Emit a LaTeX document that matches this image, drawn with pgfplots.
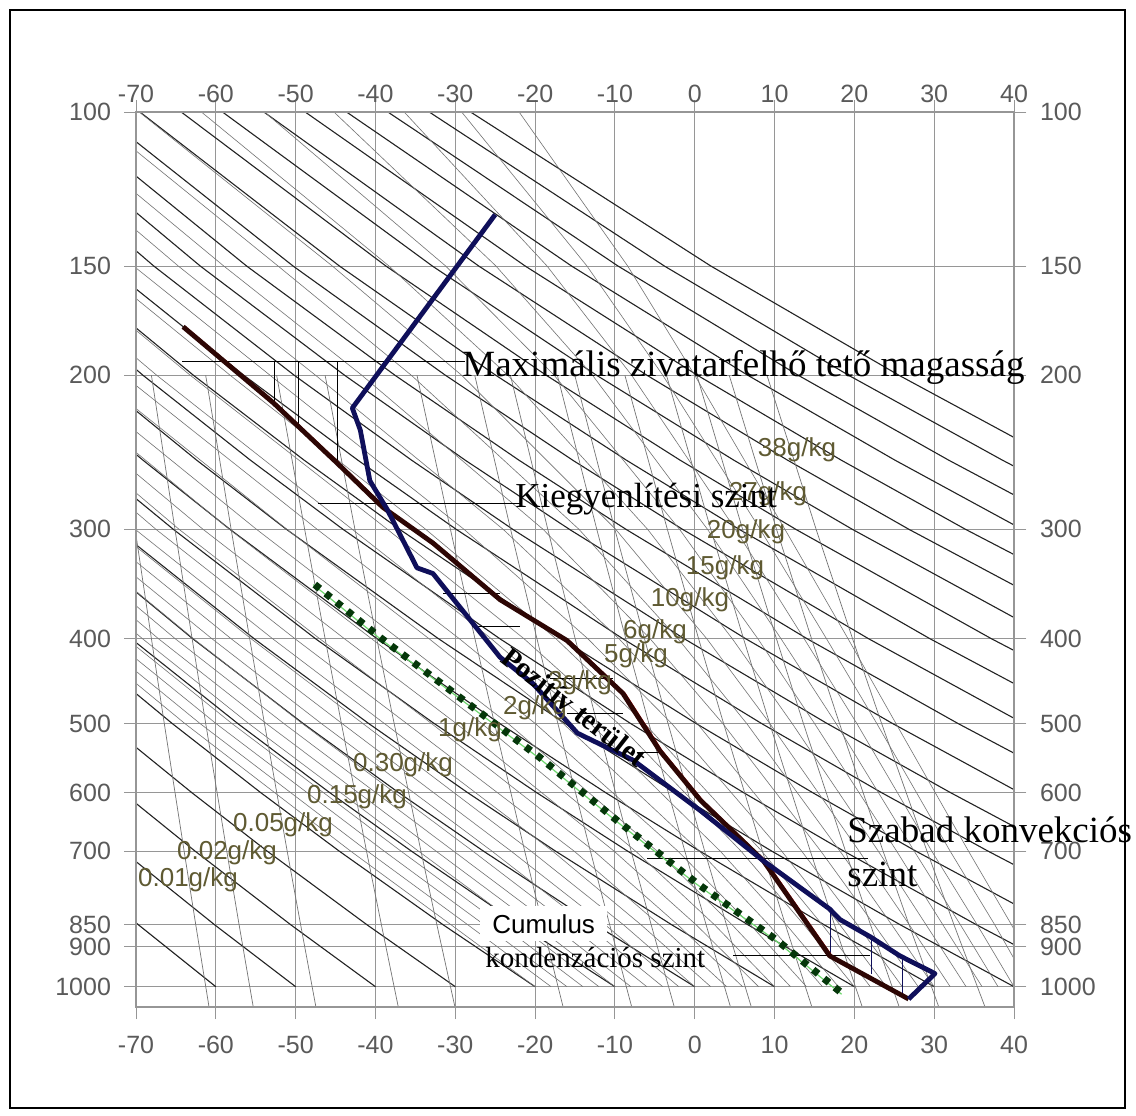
\documentclass[border=0pt]{standalone}
\usepackage{pgfplots}
\usepackage{pgfplotstable}
\pgfplotsset{compat=1.18}
\usepackage{fontspec}
\setmainfont{Liberation Serif}
\setsansfont{Liberation Sans}

\definecolor{gridc}{RGB}{150,150,150}
\definecolor{tickc}{RGB}{90,90,90}
\definecolor{dryc}{RGB}{35,35,35}
\definecolor{thinc}{RGB}{115,115,115}
\definecolor{mixc}{RGB}{95,90,50}
\definecolor{tempc}{RGB}{45,6,4}
\definecolor{envc}{RGB}{15,15,90}
\definecolor{dewc}{RGB}{5,55,10}
\definecolor{dewl}{RGB}{110,215,110}

% dry adiabats, theta = 213.15 + 10k K
\pgfplotstableread{
p k0 k1 k2 k3 k4 k5 k6 k7 k8 k9 k10 k11 k12 k13 k14 k15 k16 k17 k18 k19 k20 k21 k22 k23 k24 k25 k26
1000 -60 -50 -40 -30 -20 -10 0 10 20 30 40 50 60 70 80 90 100 110 120 130 140 150 160 170 180 190 200
850 -69.67 -60.12 -50.58 -41.03 -31.49 -21.94 -12.39 -2.85 6.70 16.25 25.79 35.34 44.89 54.43 63.98 73.52 83.07 92.62 102.16 111.71 121.26 130.80 140.35 149.89 159.44 168.99 178.53
700 -80.65 -71.62 -62.59 -53.56 -44.53 -35.49 -26.46 -17.43 -8.40 0.63 9.66 18.69 27.72 36.76 45.79 54.82 63.85 72.88 81.91 90.94 99.97 109.01 118.04 127.07 136.10 145.13 154.16
600 -88.94 -80.30 -71.66 -63.01 -54.37 -45.73 -37.09 -28.45 -19.80 -11.16 -2.52 6.12 14.77 23.41 32.05 40.69 49.33 57.98 66.62 75.26 83.90 92.54 101.19 109.83 118.47 127.11 135.76
500 -98.29 -90.09 -81.88 -73.68 -65.48 -57.27 -49.07 -40.87 -32.66 -24.46 -16.26 -8.05 0.15 8.35 16.56 24.76 32.96 41.17 49.37 57.57 65.78 73.98 82.18 90.39 98.59 106.79 115.00
400 -109.09 -101.39 -93.70 -86.00 -78.30 -70.61 -62.91 -55.21 -47.52 -39.82 -32.12 -24.43 -16.73 -9.03 -1.34 6.36 14.06 21.76 29.45 37.15 44.85 52.54 60.24 67.94 75.63 83.33 91.03
300 -122.04 -114.95 -107.86 -100.77 -93.68 -86.59 -79.50 -72.41 -65.32 -58.23 -51.15 -44.06 -36.97 -29.88 -22.79 -15.70 -8.61 -1.52 5.57 12.66 19.75 26.84 33.93 41.02 48.11 55.20 62.28
250 -129.71 -122.98 -116.25 -109.52 -102.79 -96.06 -89.33 -82.60 -75.87 -69.14 -62.41 -55.68 -48.95 -42.22 -35.49 -28.77 -22.04 -15.31 -8.58 -1.85 4.88 11.61 18.34 25.07 31.80 38.53 45.25
200 -138.57 -132.26 -125.94 -119.63 -113.31 -107.00 -100.69 -94.37 -88.06 -81.74 -75.43 -69.12 -62.80 -56.49 -50.17 -43.86 -37.55 -31.23 -24.92 -18.60 -12.29 -5.98 0.34 6.65 12.97 19.28 25.59
150 -149.19 -143.37 -137.56 -131.74 -125.93 -120.11 -114.29 -108.48 -102.66 -96.85 -91.03 -85.21 -79.40 -73.58 -67.77 -61.95 -56.14 -50.32 -44.51 -38.69 -32.87 -27.06 -21.24 -15.43 -9.61 -3.80 2.02
100 -162.75 -157.57 -152.39 -147.21 -142.03 -136.85 -131.67 -126.49 -121.31 -116.13 -110.95 -105.77 -100.59 -95.41 -90.23 -85.05 -79.87 -74.69 -69.51 -64.33 -59.16 -53.98 -48.80 -43.62 -38.44 -33.26 -28.08
}\drytab

% saturation mixing ratio lines (g/kg): 0.01 0.02 0.05 0.15 0.30 1 2 3 5 6 10 15 20 27 38
\pgfplotstableread{
p m1 m2 m3 m4 m5 m6 m7 m8 m9 m10 m11 m12 m13 m14 m15
1055 -60.85 -55.31 -47.46 -37.14 -30.04 -16.49 -7.89 -2.56 4.48 7.09 14.68 20.99 25.62 30.58 36.37
850 -62.51 -57.08 -49.37 -39.25 -32.30 -19.05 -10.65 -5.45 1.43 3.98 11.37 17.52 22.03 26.86 32.49
700 -63.97 -58.63 -51.06 -41.12 -34.30 -21.30 -13.07 -7.97 -1.24 1.25 8.48 14.48 18.89 23.60 29.10
500 -66.46 -61.27 -53.91 -44.27 -37.66 -25.09 -17.15 -12.23 -5.75 -3.35 3.61 9.38 13.61 18.13 23.41
400 -68.07 -62.97 -55.76 -46.31 -39.84 -27.54 -19.77 -14.98 -8.64 -6.30 0.48 6.11 10.23 14.63 19.77
300 -70.11 -65.12 -58.08 -48.87 -42.57 -30.61 -23.07 -18.41 -12.27 -10.01 -3.43 2.01 6.00 10.25 15.21
200 -72.89 -68.07 -61.27 -52.38 -46.31 -34.80 -27.56 -23.09 -17.21 -15.03 -8.75 -3.54 0.27 4.32 9.05
}\mixtab

% moist (pseudo) adiabats, theta_w = -20, -18, ..., 44 C
\pgfplotstableread{
p c1 c2 c3 c4 c5 c6 c7 c8 c9 c10 c11 c12 c13 c14 c15 c16 c17 c18 c19 c20 c21 c22 c23 c24 c25 c26 c27 c28 c29 c30 c31 c32 c33
1000 -20 -18 -16 -14 -12 -10 -8 -6 -4 -2 0 2 4 6 8 10 12 14 16 18 20 22 24 26 28 30 32 34 36 38 40 42 44
850 -30.5 -28.4 -26.35 -24.2 -22.1 -20.0 -17.9 -15.7 -13.5 -11.2 -8.9 -6.7 -4.4 -2.1 0.2 2.5 4.7 7.0 9.3 11.5 13.7 16.0 18.2 20.4 22.5 24.7 26.9 29.0 31.1 33.3 35.4 37.6 39.7
700 -43.1 -41.0 -38.9 -36.8 -34.6 -32.4 -30.2 -27.8 -25.4 -23.0 -20.5 -17.8 -15.1 -12.6 -10.1 -7.4 -4.7 -2.1 0.6 3.2 5.8 8.4 10.9 13.4 15.8 18.2 20.6 23.0 25.3 27.5 29.7 32.0 34.3
500 -63.9 -62.0 -60.0 -58.0 -55.9 -53.7 -51.5 -49.2 -46.8 -44.2 -41.6 -38.9 -36.1 -33.0 -29.9 -26.7 -23.4 -20.0 -16.5 -13.1 -9.6 -6.3 -2.9 0.3 3.5 6.5 9.4 12.2 15.0 17.7 20.3 22.8 25.2
400 -76.8 -75.0 -73.1 -71.2 -69.2 -67.2 -65.1 -62.8 -60.5 -58.1 -55.6 -52.9 -50.1 -47.0 -43.9 -40.5 -37.1 -33.3 -29.5 -25.5 -21.4 -17.4 -13.4 -9.5 -5.6 -2.1 1.5 4.7 7.9 10.8 13.7 16.5 19.2
300 -92.3 -90.6 -88.9 -87.1 -85.3 -83.4 -81.4 -79.4 -77.3 -75.0 -72.7 -70.1 -67.5 -64.6 -61.6 -58.3 -54.9 -51.1 -47.3 -42.9 -38.5 -33.7 -28.9 -24.0 -19.0 -14.5 -9.9 -5.9 -1.9 1.6 5.1 8.2 11.3
200 -112.1 -110.6 -109.0 -107.4 -105.8 -104.1 -102.4 -100.6 -98.7 -96.7 -94.6 -92.3 -90.0 -87.4 -84.7 -81.7 -78.7 -75.2 -71.6 -67.4 -63.2 -58.2 -53.2 -47.5 -41.7 -35.5 -29.2 -23.4 -17.6 -12.8 -7.9 -4.0 0.0
150 -124.8 -123.4 -122.0 -120.5 -119.0 -117.5 -115.9 -114.2 -112.5 -110.6 -108.7 -106.6 -104.4 -102.0 -99.6 -96.8 -94.0 -90.8 -87.5 -83.6 -79.7 -75.0 -70.3 -64.7 -59.0 -52.2 -45.4 -38.3 -31.2 -24.9 -18.5 -13.5 -8.4
100 -141.0 -139.8 -138.5 -137.2 -135.9 -134.5 -133.1 -131.6 -130.0 -128.4 -126.7 -124.8 -122.9 -120.8 -118.6 -116.1 -113.6 -110.7 -107.8 -104.3 -100.8 -96.7 -92.5 -87.4 -82.3 -76.0 -69.6 -61.8 -53.9 -45.2 -36.4 -29.2 -22.0
}\moisttab

\begin{document}
\begin{tikzpicture}
\path[use as bounding box] (0,0) rectangle (568pt,557.5pt);
\fill[white] (0,0) rectangle (568pt,557.5pt);
\draw[black, line width=0.7pt] (5pt,3.5pt) rectangle (562.5pt,552.5pt);

\begin{axis}[
    at={(68pt,54pt)}, anchor=south west,
    scale only axis, width=439pt, height=447.5pt,
    xmin=-70, xmax=40, ymin=100, ymax=1055,
    ymode=log, y dir=reverse,
    xtick={-70,-60,-50,-40,-30,-20,-10,0,10,20,30,40},
    xticklabels={-70,-60,-50,-40,-30,-20,-10,0,10,20,30,40},
    ytick={100,150,200,300,400,500,600,700,850,900,1000},
    yticklabels={100,150,200,300,400,500,600,700,850,900,1000},
    minor ytick={},
    axis line style={gridc, line width=0.6pt},
    tick align=outside, major tick length=6pt,
    tick style={gridc, line width=0.5pt},
    ticklabel style={font=\sffamily\fontsize{12.5}{14}\selectfont, text=tickc},
    xticklabel style={yshift=-5pt},
    yticklabel style={xshift=-3pt},
    xticklabel pos=lower, yticklabel pos=left,
    grid=major, grid style={gridc, line width=0.5pt},
    clip=true]

% dry adiabats
\pgfplotsinvokeforeach{0,...,26}{
  \addplot[dryc, line width=0.55pt] table[x=k#1, y=p]{\drytab};
}
% moist adiabats
\pgfplotsinvokeforeach{1,...,33}{
  \addplot[thinc, line width=0.3pt] table[x=c#1, y=p]{\moisttab};
}
% mixing ratio lines
\pgfplotsinvokeforeach{1,...,15}{
  \addplot[thinc, line width=0.35pt] table[x=m#1, y=p]{\mixtab};
}

% level lines
\addplot[black, line width=0.5pt] coordinates {(-64.2,193) (-28.8,193)};
\addplot[black, line width=0.5pt] coordinates {(-52.6,193) (-52.6,215)};
\addplot[black, line width=0.5pt] coordinates {(-49.6,193) (-49.6,228)};
\addplot[black, line width=0.5pt] coordinates {(-44.8,193) (-44.8,252)};
\addplot[black, line width=0.5pt] coordinates {(-47.2,280) (-21.9,280)};
\addplot[black, line width=0.5pt] coordinates {(-6.0,714) (21.7,714)};
\addplot[black, line width=0.5pt] coordinates {(4.8,921) (22.0,921)};
% positive area hatch
\addplot[black, line width=0.5pt] coordinates {(-31.5,355) (-24.4,355)};
\addplot[black, line width=0.5pt] coordinates {(-27.9,388) (-21.9,388)};
\addplot[black, line width=0.5pt] coordinates {(-18.1,444) (-10.2,444)};
\addplot[black, line width=0.5pt] coordinates {(-16.0,487) (-9.0,487)};
\addplot[black, line width=0.5pt] coordinates {(-7.2,540) (-4.3,540)};
% negative area hatch
\addplot[envc, line width=0.5pt] coordinates {(17.0,815) (17.0,921)};
\addplot[envc, line width=0.5pt] coordinates {(22.2,881) (22.2,966)};
\addplot[envc, line width=0.5pt] coordinates {(26.0,921) (26.0,1019)};

% dew point
\addplot[dewl, line width=0.6pt, xshift=-0.8pt] coordinates {(-47.6,347) (-39.4,399) (-25.6,496) (-19.4,547) (-9.7,646) (0.3,762) (10.3,885) (18.6,1020)};
\addplot[dewc, line width=3.6pt, dash pattern=on 3.2pt off 3.8pt] coordinates {(-47.6,347) (-39.4,399) (-25.6,496) (-19.4,547) (-9.7,646) (0.3,762) (10.3,885) (18.6,1020)};

% parcel temperature
\addplot[red!80!black, line width=0.5pt, xshift=1.2pt] coordinates {(26.8,1033) (16.9,922) (8.6,718) (0.7,612) (-4.4,537) (-9.0,462) (-16.0,402) (-24.4,361) (-32.8,311) (-39.1,283) (-44.8,252) (-52.8,215) (-64.1,176)};
\addplot[tempc, line width=2.4pt, line join=round] coordinates {(26.8,1033) (16.9,922) (8.6,718) (0.7,612) (-4.4,537) (-9.0,462) (-16.0,402) (-24.4,361) (-32.8,311) (-39.1,283) (-44.8,252) (-52.8,215) (-64.1,176)};
% environment temperature
\addplot[envc, line width=2.4pt, line join=round] coordinates {(26.8,1033) (30.1,966) (25.7,922) (22.0,877) (18.2,838) (16.9,815) (8.6,718) (0.7,629) (-7.7,551) (-14.7,513) (-20.3,450) (-24.4,420) (-32.8,337) (-34.8,332) (-38.5,285) (-40.7,264) (-41.9,231) (-42.9,218) (-25.0,131)};
\end{axis}

\begin{axis}[
    at={(68pt,54pt)}, anchor=south west,
    scale only axis, width=439pt, height=447.5pt,
    xmin=-70, xmax=40, ymin=100, ymax=1055,
    ymode=log, y dir=reverse,
    xtick={-70,-60,-50,-40,-30,-20,-10,0,10,20,30,40},
    xticklabels={-70,-60,-50,-40,-30,-20,-10,0,10,20,30,40},
    ytick={100,150,200,300,400,500,600,700,850,900,1000},
    yticklabels={100,150,200,300,400,500,600,700,850,900,1000},
    minor ytick={},
    axis line style={gridc, line width=0.6pt},
    tick align=outside, major tick length=6pt,
    tick style={gridc, line width=0.5pt},
    ticklabel style={font=\sffamily\fontsize{12.5}{14}\selectfont, text=tickc},
    xticklabel style={yshift=-5pt},
    yticklabel style={xshift=3.5pt},
    xticklabel pos=upper, yticklabel pos=right]
\end{axis}

% mixing ratio labels
\begin{scope}[every node/.style={font=\sffamily\fontsize{13}{14}\selectfont, text=mixc, inner sep=0pt}]
\node at (398.5pt,332.5pt) {38g/kg};
\node at (384pt,310.5pt) {27g/kg};
\node at (373pt,291.5pt) {20g/kg};
\node at (362.5pt,273.5pt) {15g/kg};
\node at (345pt,257.5pt) {10g/kg};
\node at (327.5pt,241.5pt) {6g/kg};
\node at (318pt,229.5pt) {5g/kg};
\node at (290pt,216pt) {3g/kg};
\node at (267.5pt,203.5pt) {2g/kg};
\node at (235pt,192.5pt) {1g/kg};
\node at (201.5pt,175pt) {0.30g/kg};
\node at (178.5pt,159pt) {0.15g/kg};
\node at (141.5pt,145pt) {0.05g/kg};
\node at (113.5pt,131pt) {0.02g/kg};
\node at (94pt,117.5pt) {0.01g/kg};
\end{scope}

% annotations
\node[anchor=base west, inner sep=0pt, font=\fontsize{18.5}{20}\selectfont] at (231pt,369pt) {Maximális zivatarfelhő tető magasság};
\node[anchor=base west, inner sep=0pt, font=\fontsize{17.5}{19}\selectfont] at (257.5pt,303.5pt) {Kiegyenlítési szint};
\node[anchor=base west, inner sep=0pt, font=\fontsize{18.5}{20}\selectfont] at (423.5pt,136pt) {Szabad konvekciós};
\node[anchor=base west, inner sep=0pt, font=\fontsize{18.5}{20}\selectfont] at (423.5pt,114pt) {szint};
\node[anchor=base west, inner sep=0pt, font=\fontsize{14.5}{16}\selectfont] at (242.5pt,74pt) {kondenzációs szint};
\node[anchor=base west, fill=white, inner xsep=6pt, inner ysep=4pt, font=\sffamily\fontsize{13}{14}\selectfont] at (240pt,91pt) {Cumulus};
\node[rotate=-38, inner sep=0pt, font=\bfseries\fontsize{14.5}{16}\selectfont] at (287pt,204pt) {Pozitív terület};
\end{tikzpicture}
\end{document}
